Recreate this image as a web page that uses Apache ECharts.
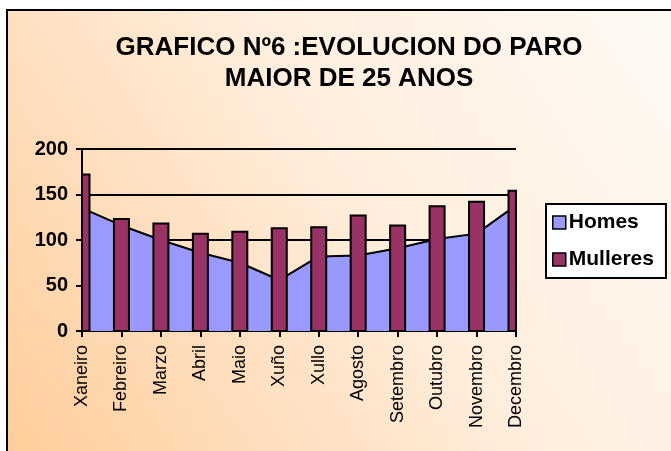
<!DOCTYPE html>
<html>
<head>
<meta charset="utf-8">
<script src="https://cdn.jsdelivr.net/npm/echarts@6/dist/echarts.min.js"></script>
<style>
  html, body { margin: 0; padding: 0; background: #fff; }
  #main { width: 671px; height: 451px; }
</style>
</head>
<body>
<div id="main"></div>
<script>
const months = ['Xaneiro', 'Febreiro', 'Marzo', 'Abril', 'Maio', 'Xuño',
  'Xullo', 'Agosto', 'Setembro', 'Outubro', 'Novembro', 'Decembro'];
const homes = [135, 116, 100, 86, 75, 56, 82, 83, 91, 101, 107, 138];
const mulleres = [172, 123, 118, 107, 109, 113, 114, 127, 116, 137, 142, 154];
const yTicks = [0, 50, 100, 150, 200];

const chart = echarts.init(document.getElementById('main'), null, { renderer: 'canvas' });

const font = 'Arial, "Liberation Sans", sans-serif';

// bars sit on the category points (boundaryGap false) and are cut at the grid edge
function renderBar(params, api) {
  const top = api.coord([api.value(0), api.value(1)]);
  const base = api.coord([api.value(0), 0]);
  const w = 15;
  const rect = echarts.graphic.clipRectByRect({
    x: top[0] - w / 2,
    y: top[1],
    width: w,
    height: base[1] - top[1]
  }, {
    x: params.coordSys.x,
    y: params.coordSys.y - 10,
    width: params.coordSys.width,
    height: params.coordSys.height + 10
  });
  if (!rect) return;
  return {
    type: 'rect',
    shape: rect,
    style: api.style({ fill: '#993366', stroke: '#000', lineWidth: 2 })
  };
}

chart.setOption({
  backgroundColor: '#ffffff',
  animation: false,
  graphic: [{
    type: 'rect',
    z: -100,
    shape: { x: 7, y: 10, width: 680, height: 460 },
    style: {
      fill: new echarts.graphic.LinearGradient(0, 1, 1, 0, [
        { offset: 0, color: '#FFCC99' },
        { offset: 0.55, color: '#FFEEDD' },
        { offset: 1, color: '#FFFAF5' }
      ]),
      stroke: '#000',
      lineWidth: 2
    }
  }],
  title: {
    text: 'GRAFICO Nº6 :EVOLUCION DO PARO\nMAIOR DE 25 ANOS',
    left: 344,
    top: 27,
    textAlign: 'center',
    textStyle: {
      fontFamily: font,
      fontWeight: 'bold',
      fontSize: 26,
      lineHeight: 31,
      color: '#000'
    }
  },
  legend: {
    orient: 'vertical',
    left: 546,
    top: 204,
    padding: [8, 12, 8, 6],
    itemGap: 16,
    itemWidth: 13,
    itemHeight: 13,
    backgroundColor: '#fff',
    borderColor: '#000',
    borderWidth: 2,
    textStyle: {
      fontFamily: font,
      fontWeight: 'bold',
      fontSize: 21,
      color: '#000',
      padding: [0, 0, 0, -2]
    },
    data: [
      { name: 'Homes', icon: 'rect', itemStyle: { color: '#9999FF', borderColor: '#000', borderWidth: 1.5 } },
      { name: 'Mulleres', icon: 'rect', itemStyle: { color: '#993366', borderColor: '#000', borderWidth: 1.5 } }
    ]
  },
  grid: {
    left: 82,
    right: 155,
    top: 149,
    bottom: 120
  },
  xAxis: {
    type: 'category',
    data: months,
    boundaryGap: false,
    axisLine: { lineStyle: { color: '#000', width: 2 } },
    axisTick: { show: true, length: 6, alignWithLabel: true, lineStyle: { color: '#000', width: 2 } },
    axisLabel: {
      rotate: 90,
      interval: 0,
      margin: 14,
      fontFamily: font,
      fontSize: 18,
      color: '#000'
    },
    splitLine: { show: false }
  },
  yAxis: {
    type: 'value',
    min: yTicks[0],
    max: yTicks[yTicks.length - 1],
    interval: 50,
    axisLine: { show: true, lineStyle: { color: '#000', width: 2 } },
    axisTick: { show: true, length: 6, lineStyle: { color: '#000', width: 2 } },
    axisLabel: {
      margin: 14,
      fontFamily: font,
      fontWeight: 'bold',
      fontSize: 20,
      color: '#000'
    },
    splitLine: { show: true, lineStyle: { color: '#000', width: 2 } }
  },
  series: [
    {
      name: 'Homes',
      type: 'line',
      data: homes,
      symbol: 'none',
      z: 1,
      lineStyle: { color: '#000', width: 2 },
      itemStyle: { color: '#9999FF' },
      areaStyle: { color: '#9999FF', opacity: 1 }
    },
    {
      name: 'Mulleres',
      type: 'custom',
      data: mulleres.map((v, i) => [i, v]),
      encode: { x: 0, y: 1 },
      renderItem: renderBar,
      z: 3,
      itemStyle: { color: '#993366', borderColor: '#000', borderWidth: 2 }
    }
  ]
});
</script>
</body>
</html>
